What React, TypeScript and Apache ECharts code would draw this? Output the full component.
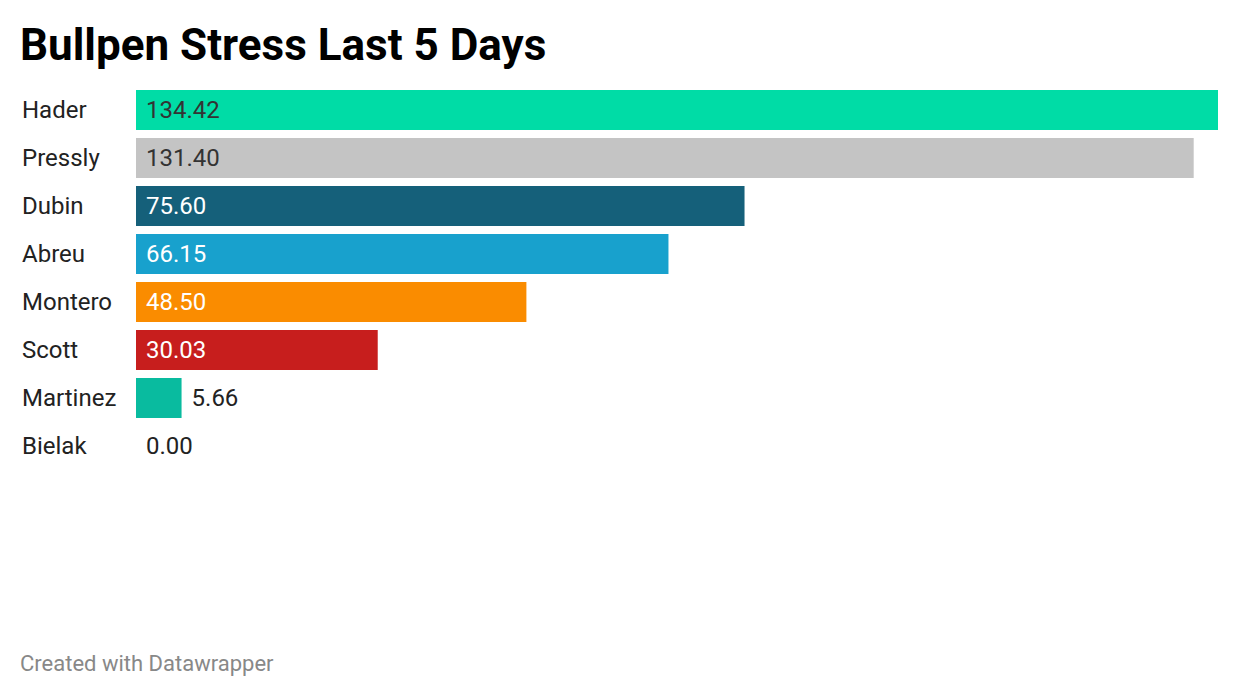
import React, { useEffect, useRef } from "react";
import * as echarts from "echarts";

const categories = ["Hader", "Pressly", "Dubin", "Abreu", "Montero", "Scott", "Martinez", "Bielak"];
const values = [134.42, 131.4, 75.6, 66.15, 48.5, 30.03, 5.66, 0.0];
const barColors = ["#00dca6", "#c4c4c4", "#15607a", "#18a1cd", "#fa8c00", "#c71e1d", "#09bb9f", "#09bb9f"];
const labelInside = [true, true, true, true, true, true, false, false];
const labelColors = ["#333333", "#333333", "#ffffff", "#ffffff", "#ffffff", "#ffffff", "#222222", "#222222"];

export default function App() {
  const ref = useRef<HTMLDivElement>(null);
  useEffect(() => {
    if (!ref.current) return;
    const chart = echarts.init(ref.current, undefined, { renderer: "svg" });
    const font = "Roboto, 'Noto Sans', sans-serif";
    chart.setOption({
      animation: false,
      backgroundColor: "#ffffff",
      graphic: [
        {
          type: "text",
          x: 20,
          y: 45,
          style: {
            text: "Bullpen Stress Last 5 Days",
            fontFamily: font,
            fontWeight: "bold",
            fontSize: 44,
            fill: "#000000",
            verticalAlign: "middle",
            align: "left",
          },
        },
        {
          type: "text",
          x: 20,
          y: 663,
          style: {
            text: "Created with Datawrapper",
            fontFamily: font,
            fontSize: 22,
            fill: "#888888",
            verticalAlign: "middle",
            align: "left",
          },
        },
      ],
      grid: { left: 136, right: 22, top: 86, height: 384, containLabel: false },
      xAxis: {
        type: "value",
        min: 0,
        max: 134.42,
        show: false,
      },
      yAxis: {
        type: "category",
        data: categories,
        inverse: true,
        axisLine: { show: false },
        axisTick: { show: false },
        splitLine: { show: false },
        axisLabel: {
          align: "left",
          margin: 114,
          fontFamily: font,
          fontSize: 24,
          color: "#222222",
        },
      },
      series: [
        {
          type: "bar",
          barWidth: 40,
          data: values.map((v, i) => ({
            value: v,
            itemStyle: { color: barColors[i] },
            label: {
              show: true,
              position: labelInside[i] ? "insideLeft" : "right",
              distance: 10,
              color: labelColors[i],
              fontFamily: font,
              fontSize: 24,
              formatter: (p: any) => Number(p.value).toFixed(2),
            },
          })),
        },
      ],
    });
    return () => chart.dispose();
  }, []);
  return <div ref={ref} style={{ width: 1240, height: 696, position: "absolute", left: 0, top: 0 }} />;
}
